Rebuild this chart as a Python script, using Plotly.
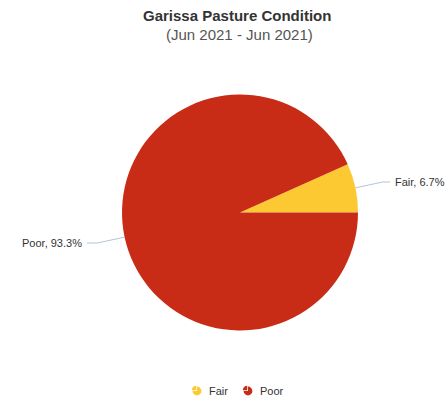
import math
import plotly.graph_objects as go

# Pasture condition shares for Garissa
categories = ["Fair", "Poor"]
shares = [6.7, 93.3]
colors = ["#FCC932", "#C92C16"]

title = "Garissa Pasture Condition"
subtitle = "(Jun 2021 - Jun 2021)"

W, H = 448, 406
CX, CY, R = 240, 212.5, 118   # pie centre and radius in pixels


def px(x):
    return x / W


def py(y):
    return 1 - y / H


total = sum(shares)
# first slice sits just above the 3 o'clock line, the rest follow counterclockwise
first_deg = 360 * shares[0] / total

fig = go.Figure()

fig.add_trace(go.Pie(
    labels=categories,
    values=shares,
    marker=dict(colors=colors, line=dict(width=0)),
    sort=False,
    direction="counterclockwise",
    rotation=90 - first_deg,
    textinfo="none",
    hoverinfo="label+percent",
    showlegend=False,
    domain=dict(x=[px(CX - 200), px(CX + 200)], y=[py(CY + R), py(CY - R)]),
))

# outside labels with connector lines, placed from each slice's mid-angle
start = 0.0
shapes = []
annotations = []
for name, val in zip(categories, shares):
    frac = val / total
    mid = (start + frac / 2) * 2 * math.pi
    start += frac
    ex, ey = CX + R * math.cos(mid), CY - R * math.sin(mid)
    kx, ky = CX + (R + 28) * math.cos(mid), CY - (R + 28) * math.sin(mid)
    right = math.cos(mid) >= 0
    tx = CX + (R + 35) if right else CX - (R + 38)
    hx = tx - 3 if right else tx + 3
    shapes.append(dict(type="path", xref="paper", yref="paper",
                       path=f"M {px(ex)} {py(ey)} L {px(kx)} {py(ky)} L {px(hx)} {py(ky)}",
                       line=dict(color="#9FB6C6", width=0.8)))
    annotations.append(dict(x=px(tx), y=py(ky), xref="paper", yref="paper",
                            text=f"{name}, {val}%", showarrow=False,
                            xanchor="left" if right else "right", yanchor="middle",
                            font=dict(size=11, color="#333333")))

# title and subtitle
annotations.append(dict(x=px(237), y=py(15), xref="paper", yref="paper",
                        text=f"<b>{title}</b>", showarrow=False,
                        xanchor="center", yanchor="middle",
                        font=dict(size=15, color="#333333")))
annotations.append(dict(x=px(239), y=py(34), xref="paper", yref="paper",
                        text=subtitle, showarrow=False,
                        xanchor="center", yanchor="middle",
                        font=dict(size=15, color="#555555")))

# legend: small pie icons with a pulled-out wedge, followed by the label
legend_x = [197, 248]
LY, IR = 391, 5.5
for name, col, lx in zip(categories, colors, legend_x):
    fig.add_trace(go.Pie(
        values=[3, 1],
        marker=dict(colors=[col, col], line=dict(width=0)),
        pull=[0, 0.25],
        sort=False,
        direction="clockwise",
        rotation=0,
        textinfo="none",
        hoverinfo="skip",
        showlegend=False,
        domain=dict(x=[px(lx - IR), px(lx + IR)], y=[py(LY + IR), py(LY - IR)]),
    ))
    annotations.append(dict(x=px(lx + 10), y=py(LY), xref="paper", yref="paper",
                            text=name, showarrow=False,
                            xanchor="left", yanchor="middle",
                            font=dict(size=11, color="#333333")))

fig.update_layout(
    width=W, height=H,
    margin=dict(l=0, r=0, t=0, b=0),
    paper_bgcolor="white",
    plot_bgcolor="white",
    font=dict(family="Liberation Sans, Arial, sans-serif"),
    shapes=shapes,
    annotations=annotations,
    showlegend=False,
)

fig.write_html("out.html")
